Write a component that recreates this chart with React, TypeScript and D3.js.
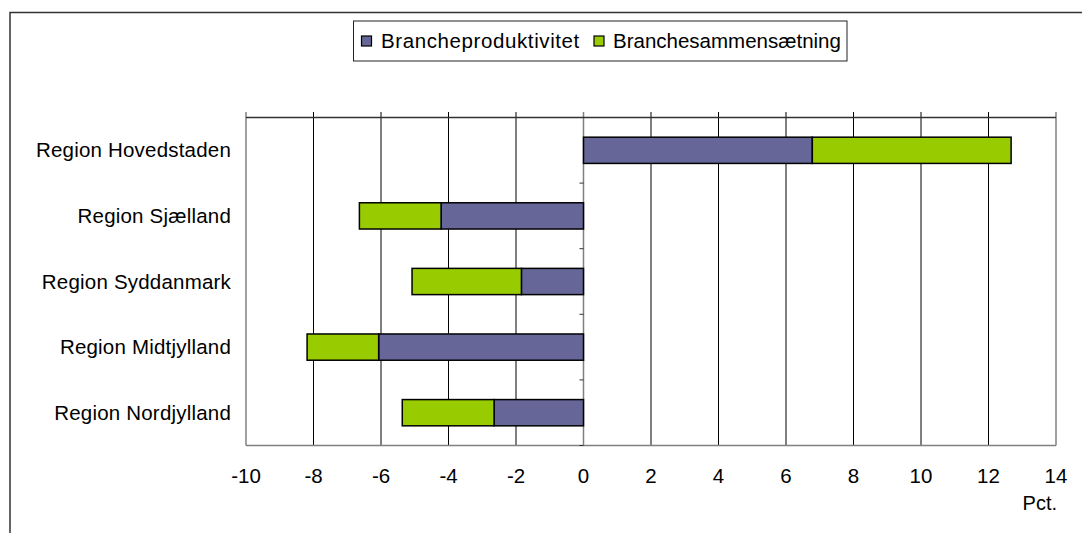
import React from "react";
import * as d3 from "d3";

const categories = [
  "Region Hovedstaden",
  "Region Sjælland",
  "Region Syddanmark",
  "Region Midtjylland",
  "Region Nordjylland",
];
const seriesNames = ["Brancheproduktivitet", "Branchesammensætning"];
const brancheproduktivitet = [6.78, -4.22, -1.84, -6.07, -2.65];
const branchesammensaetning = [5.89, -2.42, -3.24, -2.12, -2.72];
const xTicks = [-10, -8, -6, -4, -2, 0, 2, 4, 6, 8, 10, 12, 14];
const colors = ["#666699", "#99CC00"];

const W = 1082;
const H = 533;
const FONT = "'Liberation Sans', Arial, sans-serif";

export default function App() {
  const plot = { left: 246, right: 1056, top: 117.5, bottom: 445.5 };
  const x = d3.scaleLinear().domain([-10, 14]).range([plot.left, plot.right]);
  const y = d3
    .scaleBand<string>()
    .domain(categories)
    .range([plot.top, plot.bottom])
    .paddingInner(0.6)
    .paddingOuter(0.3);

  const rows = categories.map((c, i) => ({
    cat: c,
    a: brancheproduktivitet[i],
    b: branchesammensaetning[i],
  }));
  const stack = d3
    .stack<any>()
    .keys(["a", "b"])
    .offset(d3.stackOffsetDiverging);
  const layers = stack(rows);

  const step = y.step();
  const bandBounds = d3.range(categories.length + 1).map(
    (i) => plot.top + i * step
  );

  const legendItems = [
    { sx: 361.5, tx: 381, ls: 0.6 },
    { sx: 594, tx: 613, ls: 0 },
  ];

  return (
    <svg
      width={W}
      height={H}
      style={{ position: "absolute", left: 0, top: 0, background: "#fff" }}
      fontFamily={FONT}
    >
      <rect x={0} y={0} width={W} height={H} fill="#fff" />
      {/* outer border */}
      <rect
        x={10}
        y={12.5}
        width={W + 20}
        height={H + 20}
        fill="none"
        stroke="#333"
        strokeWidth={1.5}
      />
      {/* legend */}
      <rect
        x={353.5}
        y={21}
        width={493.5}
        height={40}
        fill="#fff"
        stroke="#222"
        strokeWidth={1}
      />
      {seriesNames.map((name, i) => {
        const it = legendItems[i];
        return (
          <g key={name}>
            <rect
              x={it.sx}
              y={36}
              width={10}
              height={10}
              fill={colors[i]}
              stroke="#000"
              strokeWidth={1.2}
            />
            <text
              x={it.tx}
              y={48}
              fontSize={20.5}
              fill="#000"
              letterSpacing={it.ls}
            >
              {name}
            </text>
          </g>
        );
      })}

      {/* grid lines */}
      {xTicks.map((t) => (
        <line
          key={"g" + t}
          x1={x(t)}
          x2={x(t)}
          y1={112}
          y2={plot.bottom}
          stroke={t === 0 || t === -10 || t === 14 ? "#808080" : "#000"}
          strokeWidth={t === 0 || t === -10 || t === 14 ? 1.5 : 1}
        />
      ))}
      {/* plot frame */}
      <line x1={plot.left} x2={plot.right} y1={plot.bottom} y2={plot.bottom} stroke="#808080" strokeWidth={1.5} />
      <line x1={plot.left} x2={plot.right} y1={plot.top} y2={plot.top} stroke="#333" strokeWidth={1.5} />
      {/* category axis ticks at zero */}
      {bandBounds.map((b, i) => (
        <line key={"t" + i} x1={x(0) - 4} x2={x(0)} y1={b} y2={b} stroke="#333" strokeWidth={1} />
      ))}

      {/* bars */}
      {layers.map((layer, li) => (
        <g key={li}>
          {layer.map((d: any, i: number) => (
            <rect
              key={i}
              x={x(Math.min(d[0], d[1]))}
              y={y(d.data.cat)!}
              width={Math.abs(x(d[1]) - x(d[0]))}
              height={y.bandwidth()}
              fill={colors[li]}
              stroke="#000"
              strokeWidth={1.5}
            />
          ))}
        </g>
      ))}

      {/* x tick labels */}
      {xTicks.map((t) => (
        <text
          key={"l" + t}
          x={x(t)}
          y={483}
          textAnchor="middle"
          fontSize={20.5}
          fill="#000"
        >
          {t}
        </text>
      ))}
      <text x={1057} y={510} textAnchor="end" fontSize={20} fill="#000">
        Pct.
      </text>

      {/* category labels */}
      {categories.map((c) => (
        <text
          key={c}
          x={231}
          y={y(c)! + y.bandwidth() / 2 + 7}
          textAnchor="end"
          fontSize={20.5}
          fill="#000"
          letterSpacing={0.2}
        >
          {c}
        </text>
      ))}
    </svg>
  );
}
